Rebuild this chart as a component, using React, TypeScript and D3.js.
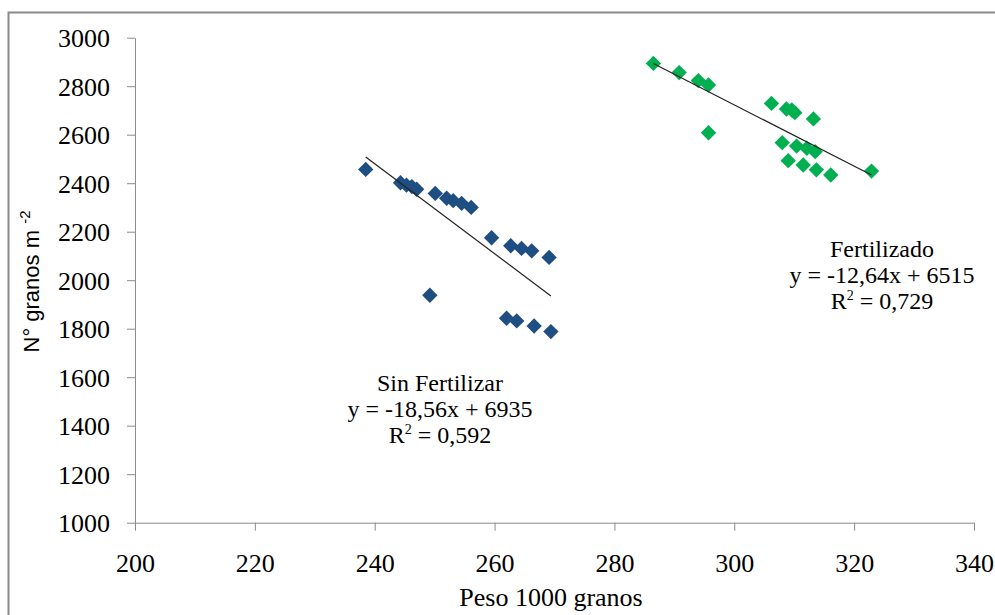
import React, { useEffect, useRef } from "react";
import * as d3 from "d3";

const W = 995;
const H = 615;

const xTicks = [200, 220, 240, 260, 280, 300, 320, 340];
const yTicks = [1000, 1200, 1400, 1600, 1800, 2000, 2200, 2400, 2600, 2800, 3000];

// Sin Fertilizar
const sinX = [238.5, 244.3, 245.3, 246.2, 247, 250.1, 252, 253.1, 254.5, 256.1, 259.5, 262.7, 264.5, 266.2, 269.1, 249.2, 262, 263.7, 266.6, 269.4];
const sinY = [2457, 2402, 2392, 2386, 2375, 2358, 2338, 2328, 2317, 2300, 2175, 2142, 2131, 2121, 2094, 1938, 1843, 1832, 1811, 1788];

// Fertilizado
const ferX = [286.5, 290.8, 294, 295.7, 306.2, 308.7, 309.6, 310.1, 313.2, 295.7, 308, 310.4, 312.1, 313.5, 309, 311.5, 313.7, 316.1, 322.9];
const ferY = [2894, 2856, 2823, 2805, 2729, 2706, 2702, 2691, 2665, 2608, 2567, 2553, 2544, 2530, 2493, 2475, 2455, 2434, 2450];

const sinFit = { slope: -18.56, intercept: 6935 };
const ferFit = { slope: -12.64, intercept: 6515 };

const sinLabel = ["Sin Fertilizar", "y = -18,56x + 6935", "0,592"];
const ferLabel = ["Fertilizado", "y = -12,64x + 6515", "0,729"];

export default function App() {
  const ref = useRef<SVGSVGElement>(null);

  useEffect(() => {
    const svg = d3.select(ref.current);
    svg.selectAll("*").remove();

    const x = d3.scaleLinear().domain([200, 340]).range([135, 974]);
    const y = d3.scaleLinear().domain([1000, 3000]).range([522.7, 37.7]);
    const axisColor = "#8c8c8c";
    const serif = "'Liberation Serif', 'Times New Roman', serif";

    // outer border (top and left)
    svg.append("path")
      .attr("d", `M8.5,${H + 2} L8.5,12.5 L${W + 2},12.5`)
      .attr("fill", "none")
      .attr("stroke", "#8a8a8a")
      .attr("stroke-width", 2);

    // axes
    const fmt = d3.format("d");
    const gx = svg.append("g").attr("transform", `translate(0,${y(1000)})`);
    gx.call(d3.axisBottom(x).tickValues(xTicks).tickFormat(fmt as any).tickSize(8).tickSizeOuter(0) as any);
    const gy = svg.append("g").attr("transform", `translate(${x(200)},0)`);
    gy.call(d3.axisLeft(y).tickValues(yTicks).tickFormat(fmt as any).tickSize(8).tickSizeOuter(0).tickPadding(17) as any);
    [gx, gy].forEach((g) => {
      g.attr("font-family", serif).attr("font-size", 26);
      g.selectAll("path, line").attr("stroke", axisColor);
      g.selectAll("text")
        .attr("fill", "#000")
        .attr("font-family", serif)
        .attr("font-size", 26);
    });
    gx.selectAll("text").attr("y", 49).attr("dy", 0);
    gy.selectAll("text").attr("dy", "0.34em");

    // trend lines
    const drawFit = (xs: number[], fit: { slope: number; intercept: number }) => {
      const x0 = d3.min(xs)!;
      const x1 = d3.max(xs)!;
      svg.append("line")
        .attr("x1", x(x0))
        .attr("y1", y(fit.slope * x0 + fit.intercept))
        .attr("x2", x(x1))
        .attr("y2", y(fit.slope * x1 + fit.intercept))
        .attr("stroke", "#222")
        .attr("stroke-width", 1.2);
    };

    const diamond = d3.symbol().type(d3.symbolDiamond2).size(150);
    const drawPts = (xs: number[], ys: number[], color: string) => {
      svg.append("g")
        .selectAll("path")
        .data(xs.map((v, i) => [v, ys[i]]))
        .join("path")
        .attr("d", diamond() as string)
        .attr("transform", (d) => `translate(${x(d[0])},${y(d[1])})`)
        .attr("fill", color);
    };

    drawPts(sinX, sinY, "#1f4e82");
    drawPts(ferX, ferY, "#00b050");
    drawFit(sinX, sinFit);
    drawFit(ferX, ferFit);

    // annotations
    const annot = (cx: number, top: number, lines: string[]) => {
      const g = svg.append("g").attr("font-family", serif).attr("font-size", 24).attr("fill", "#000");
      g.append("text").attr("x", cx).attr("y", top).attr("text-anchor", "middle").text(lines[0]);
      g.append("text").attr("x", cx).attr("y", top + 26).attr("text-anchor", "middle").text(lines[1]);
      const t = g.append("text").attr("x", cx).attr("y", top + 52).attr("text-anchor", "middle");
      t.append("tspan").text("R");
      t.append("tspan").attr("font-size", 14).attr("dy", "-9").text("2");
      t.append("tspan").attr("dy", "9").text(" = " + lines[2]);
    };
    annot(440, 391, sinLabel);
    annot(882, 257, ferLabel);

    // axis titles
    svg.append("text")
      .attr("x", 551)
      .attr("y", 606)
      .attr("text-anchor", "middle")
      .attr("font-family", serif)
      .attr("font-size", 26)
      .text("Peso 1000 granos");

    const yt = svg.append("text")
      .attr("transform", `translate(38.5,281.5) rotate(-90)`)
      .attr("text-anchor", "middle")
      .attr("font-family", "'Liberation Sans', Arial, sans-serif")
      .attr("font-size", 22);
    yt.append("tspan").text("N° granos m ");
    yt.append("tspan").attr("font-size", 15).attr("dy", "-9").text("-2");
  }, []);

  return (
    <svg
      ref={ref}
      width={W}
      height={H}
      style={{ position: "absolute", left: 0, top: 0, background: "#fff" }}
    />
  );
}
